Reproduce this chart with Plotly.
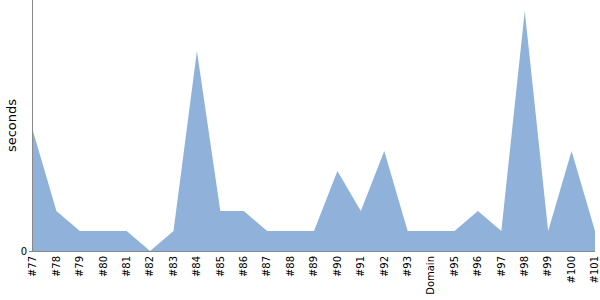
import plotly.graph_objects as go

categories = ["#77", "#78", "#79", "#80", "#81", "#82", "#83", "#84", "#85", "#86",
              "#87", "#88", "#89", "#90", "#91", "#92", "#93", "Domain", "#95", "#96",
              "#97", "#98", "#99", "#100", "#101"]
seconds = [6, 2, 1, 1, 1, 0, 1, 10, 2, 2,
           1, 1, 1, 4, 2, 5, 1, 1, 1, 2,
           1, 12, 1, 5, 1]

FONT = "DejaVu Sans, Verdana, sans-serif"

fig = go.Figure()
fig.add_trace(go.Scatter(
    x=categories, y=seconds, mode="none", fill="tozeroy",
    fillcolor="rgb(144,178,218)", hoverinfo="x+y",
))

fig.update_layout(
    width=600, height=300,
    margin=dict(l=33, r=5, t=0, b=49),
    paper_bgcolor="white", plot_bgcolor="white",
    showlegend=False,
    font=dict(family=FONT, size=10, color="black"),
)
fig.update_xaxes(
    type="category", range=[0, len(categories) - 1],
    tickangle=-90, showgrid=False, zeroline=False,
    showline=True, linecolor="#888888", linewidth=1,
    ticks="", tickfont=dict(family=FONT, size=10),
)
fig.update_yaxes(
    range=[0, 12.55], tickvals=[0], ticktext=["0"],
    showgrid=False, zeroline=False,
    showline=True, linecolor="#888888", linewidth=1,
    ticks="outside", ticklen=3, tickcolor="#888888",
    tickfont=dict(family=FONT, size=10),
    title=dict(text="seconds", font=dict(family=FONT, size=13), standoff=1),
)

fig.write_html("out.html")
